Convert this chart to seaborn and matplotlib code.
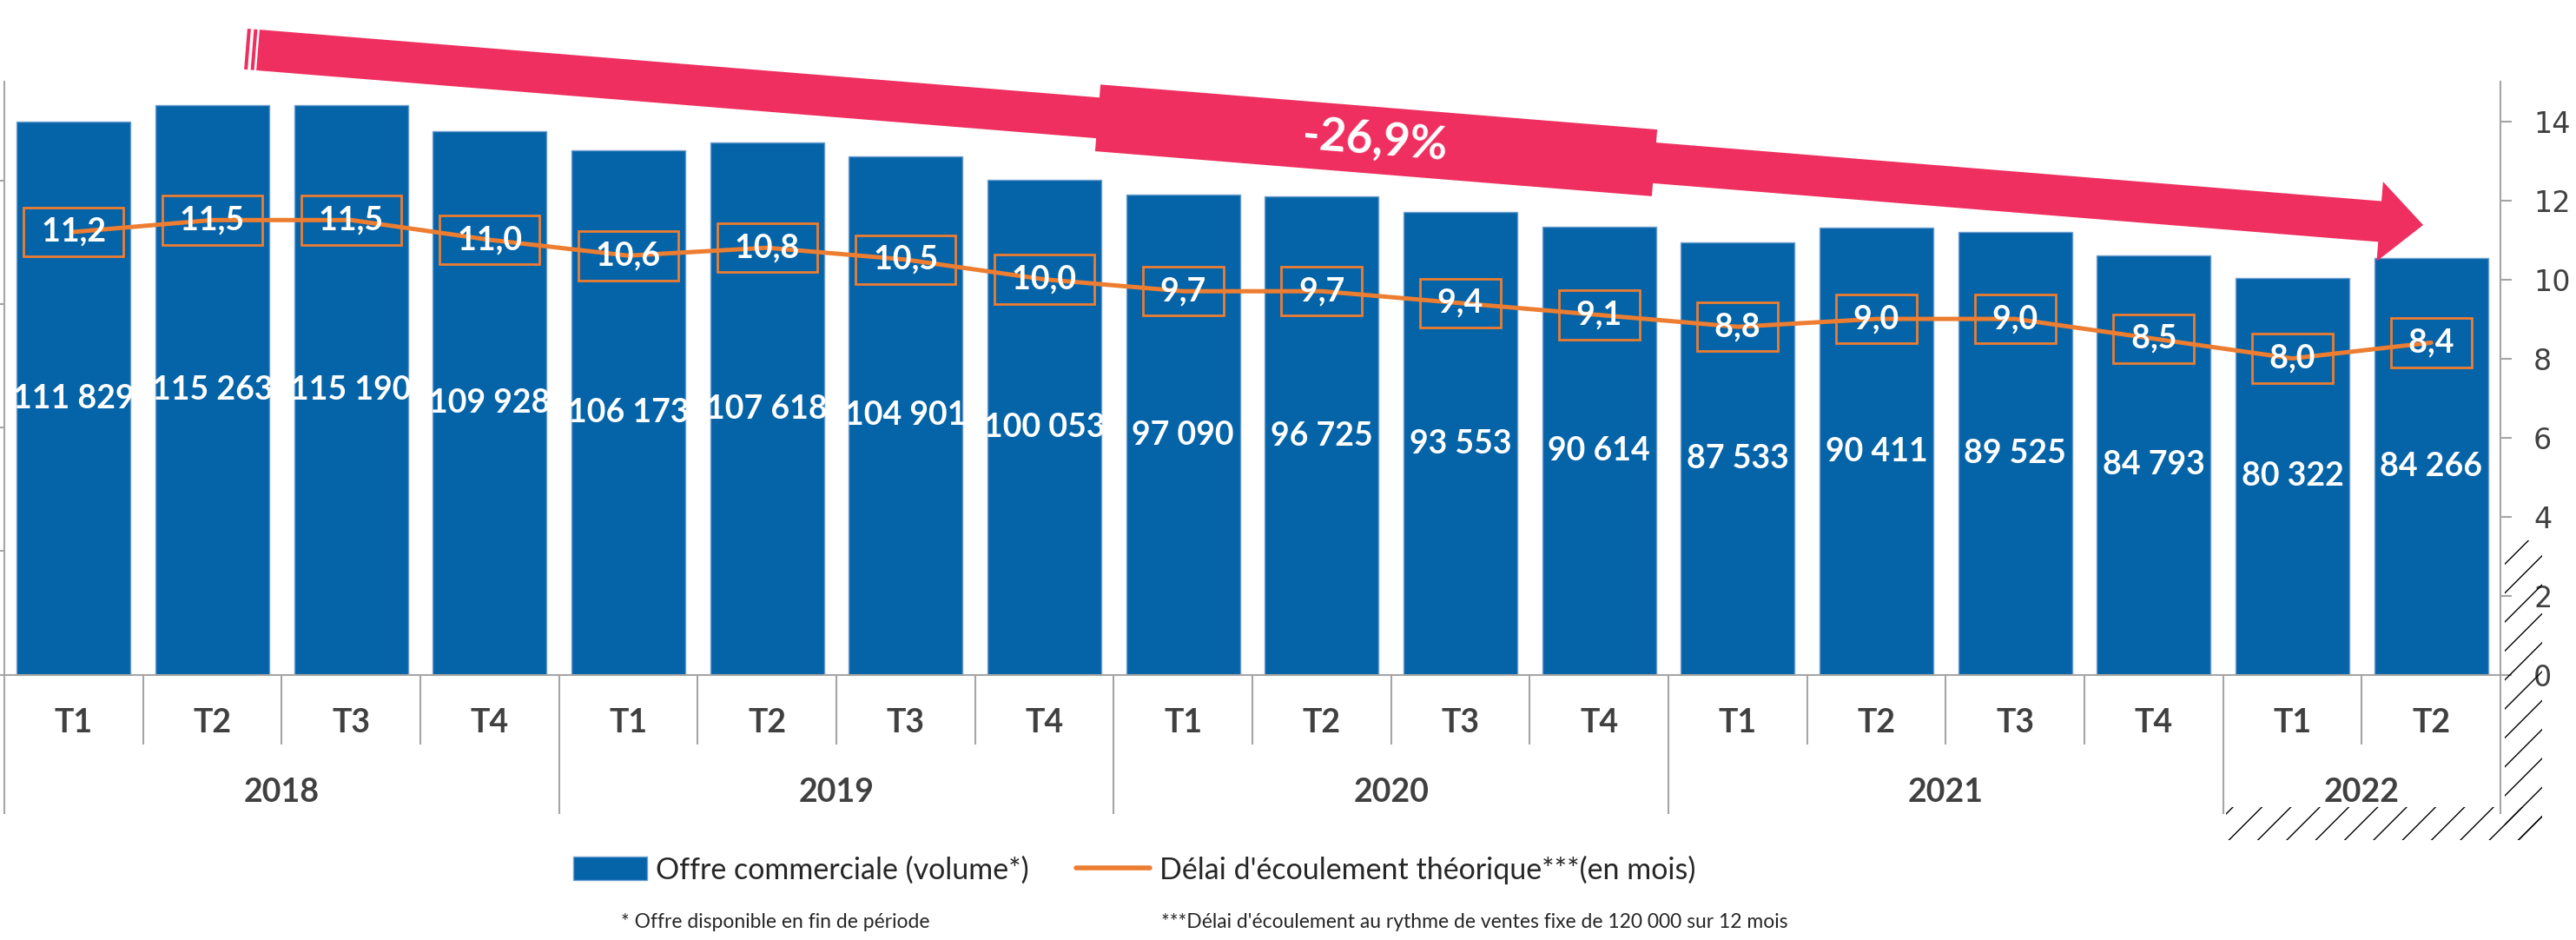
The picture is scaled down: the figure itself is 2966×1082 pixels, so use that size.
import numpy as np
import pandas as pd
import matplotlib.pyplot as plt
import seaborn as sns
from matplotlib.patches import FancyArrow, Rectangle, Patch
from matplotlib.lines import Line2D
from matplotlib.transforms import IdentityTransform

# ---- donnees ----
annees = ['2018', '2019', '2020', '2021', '2022']
trimestres = ['T1', 'T2', 'T3', 'T4'] * 4 + ['T1', 'T2']
annee_barre = ['2018'] * 4 + ['2019'] * 4 + ['2020'] * 4 + ['2021'] * 4 + ['2022'] * 2
offre = [111829, 115263, 115190, 109928, 106173, 107618, 104901, 100053,
         97090, 96725, 93553, 90614, 87533, 90411, 89525, 84793, 80322, 84266]
delai = [11.2, 11.5, 11.5, 11.0, 10.6, 10.8, 10.5, 10.0,
         9.7, 9.7, 9.4, 9.1, 8.8, 9.0, 9.0, 8.5, 8.0, 8.4]
variation = '-26,9%'
legende = ['Offre commerciale (volume*)', "Délai d'écoulement théorique***(en mois)"]
notes = ['* Offre disponible en fin de période',
         "***Délai d'écoulement au rythme de ventes fixe de 120 000 sur 12 mois"]

BLEU = '#0563A7'
ORANGE = '#ED7D31'
ROSE = '#EF2F5F'
GRIS = '#A5A5A5'
TEXTE = '#404040'

df = pd.DataFrame({
    'periode': [f'{a} {t}' for a, t in zip(annee_barre, trimestres)],
    'offre': offre,
    'delai': delai,
})
df['pos'] = np.arange(len(df))

sns.set_style('white')
plt.rcParams['font.family'] = ['Lato', 'DejaVu Sans']

W, H = 2966, 1082
fig = plt.figure(figsize=(W / 100, H / 100), dpi=100)
ax = fig.add_axes([5 / W, 1 - 776.7 / H, 2874 / W, 682.7 / H])

sns.barplot(data=df, x='periode', y='offre', color=BLEU, saturation=1,
            width=0.82, edgecolor='#6FA0D0', linewidth=1, ax=ax)
ax.set_ylim(0, 120000)
ax.set_yticks(np.arange(0, 100001, 25000))
ax.set_yticklabels([])
ax.tick_params(axis='y', direction='out', length=4, width=1.5, color=GRIS)
ax.set_xticks(range(len(df)))
ax.set_xticklabels([])
ax.tick_params(axis='x', length=0)
ax.set_xlabel('')
ax.set_ylabel('')
for s in ['top', 'right']:
    ax.spines[s].set_visible(False)
for s in ['left', 'bottom']:
    ax.spines[s].set_color(GRIS)
    ax.spines[s].set_linewidth(1.5)

# valeurs des barres (au milieu)
for i, v in enumerate(offre):
    ax.text(i, v / 2, f'{v:,}'.replace(',', ' '), ha='center', va='center',
            color='white', fontsize=27, fontweight='bold')

# axe secondaire : delai
ax2 = ax.twinx()
sns.lineplot(data=df, x='pos', y='delai', color=ORANGE, linewidth=3.6, ax=ax2)
ax2.set_ylim(0, 15)
ax2.set_yticks(range(0, 15, 2))
ax2.tick_params(axis='y', direction='out', length=9.4, width=1.5, color=GRIS,
                labelsize=24, labelcolor=TEXTE, pad=18)
for lbl in ax2.get_yticklabels():
    lbl.set_fontfamily('DejaVu Sans')
ax2.set_ylabel('')
ax2.set_xlabel('')
for s in ['top', 'left', 'bottom']:
    ax2.spines[s].set_visible(False)
ax2.spines['right'].set_color(GRIS)
ax2.spines['right'].set_linewidth(1.5)

for i, d in enumerate(delai):
    ax2.text(i, d, f' {d:.1f} '.replace('.', ','), ha='center', va='center',
             color='white', fontsize=27, fontweight='bold',
             bbox=dict(boxstyle='square,pad=0.3', fc='none', ec=ORANGE, lw=2))

ax.set_xlim(-0.5, len(df) - 0.5)

# axe des categories a deux niveaux
trans = ax.get_xaxis_transform()
for i, t in enumerate(trimestres):
    ax.text(i, -0.0978, t, transform=trans, ha='center', va='baseline',
            fontsize=27, fontweight='bold', color=TEXTE)
for a in annees:
    idx = [i for i, b in enumerate(annee_barre) if b == a]
    ax.text(np.mean(idx), -0.215, a, transform=trans, ha='center', va='baseline',
            fontsize=27, fontweight='bold', color=TEXTE)
for i in range(len(df) + 1):
    fin = i == 0 or i == len(df) or annee_barre[i] != annee_barre[i - 1]
    ax.vlines(i - 0.5, -0.2348 if fin else -0.1176, 0, transform=trans,
              color=GRIS, lw=1.5, clip_on=False)

# fleche de tendance (en pixels)
pente = 0.0808


def yc(x):
    return H - (57 + pente * (x - 290))


pix = IdentityTransform()
fig.add_artist(FancyArrow(297, yc(297), 2790 - 297, yc(2790) - yc(297), width=47,
                          head_width=92, head_length=50, length_includes_head=True,
                          fc=ROSE, ec='none', transform=pix))
for x0, x1 in [(283, 287), (290.5, 294.5)]:
    fig.add_artist(Line2D([x0, x1], [yc(x0), yc(x1)], lw=47 * 0.72, color=ROSE,
                          solid_capstyle='butt', transform=pix))
fig.add_artist(Line2D([1264, 1905], [yc(1264), yc(1905)], lw=77 * 0.72, color=ROSE,
                      solid_capstyle='butt', transform=pix))
fig.text(1583, yc(1583), variation, transform=pix, rotation=-np.degrees(np.arctan(pente)),
         rotation_mode='anchor', ha='center', va='center', color='white',
         fontsize=38, fontweight='bold')

# zones hachurees
for (x, y, w, h) in [(2884, H - 967, 43, 345), (2563, H - 967, 364, 38)]:
    fig.add_artist(Rectangle((x, y), w, h, fill=False, hatch='/', ec='black',
                             lw=0, transform=pix))

# legende et notes
poignees = [Patch(facecolor=BLEU, edgecolor='#6FA0D0'),
            Line2D([], [], color=ORANGE, lw=4)]
fig.legend(handles=poignees, labels=legende, loc='center',
           bbox_to_anchor=(1306 / W, 1 - 1001 / H), ncol=2, frameon=False,
           fontsize=24.5, handlelength=2.5, handleheight=0.85, handletextpad=0.3,
           columnspacing=1.6)
fig.text(715 / W, 1 - 1061 / H, notes[0], fontsize=16.5, va='center')
fig.text(1337 / W, 1 - 1061 / H, notes[1], fontsize=16.5, va='center')

fig.savefig('out.png', dpi=100)
